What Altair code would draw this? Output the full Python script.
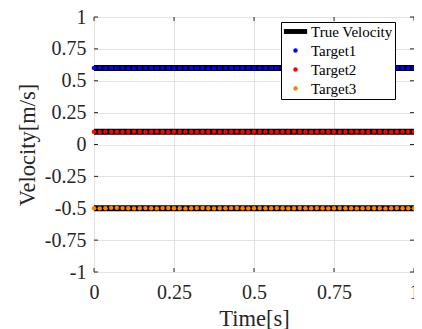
import altair as alt
import numpy as np
import pandas as pd

# sample times (0..1 s)
time = [round(v, 5) for v in np.linspace(0, 1, 57)]

target1 = [0.600, 0.601, 0.599, 0.600, 0.600, 0.601, 0.599, 0.598, 0.600, 0.601,
           0.600, 0.599, 0.601, 0.600, 0.598, 0.600, 0.601, 0.600, 0.599, 0.600,
           0.597, 0.599, 0.600, 0.601, 0.600, 0.599, 0.600, 0.601, 0.598, 0.599,
           0.600, 0.601, 0.600, 0.599, 0.600, 0.600, 0.601, 0.599, 0.600, 0.600,
           0.601, 0.600, 0.599, 0.600, 0.601, 0.600, 0.599, 0.600, 0.601, 0.598,
           0.596, 0.599, 0.600, 0.601, 0.600, 0.599, 0.600]
target2 = [0.100, 0.099, 0.101, 0.100, 0.100, 0.099, 0.100, 0.101, 0.100, 0.099,
           0.100, 0.101, 0.100, 0.099, 0.100, 0.100, 0.101, 0.100, 0.099, 0.100,
           0.100, 0.101, 0.099, 0.100, 0.100, 0.101, 0.100, 0.099, 0.100, 0.100,
           0.101, 0.100, 0.099, 0.100, 0.100, 0.101, 0.100, 0.100, 0.099, 0.100,
           0.101, 0.100, 0.100, 0.099, 0.100, 0.101, 0.100, 0.100, 0.099, 0.101,
           0.100, 0.100, 0.099, 0.100, 0.101, 0.100, 0.100]
target3 = [-0.500, -0.501, -0.500, -0.497, -0.497, -0.499, -0.500, -0.501, -0.500, -0.499,
           -0.500, -0.501, -0.499, -0.498, -0.500, -0.500, -0.501, -0.500, -0.499, -0.498,
           -0.500, -0.501, -0.500, -0.500, -0.499, -0.498, -0.500, -0.501, -0.500, -0.499,
           -0.500, -0.500, -0.499, -0.500, -0.501, -0.500, -0.498, -0.500, -0.500, -0.499,
           -0.500, -0.501, -0.500, -0.499, -0.500, -0.500, -0.501, -0.500, -0.499, -0.500,
           -0.500, -0.501, -0.500, -0.499, -0.500, -0.500, -0.500]

series_names = ["Target1", "Target2", "Target3"]
true_velocity = [0.6, 0.1, -0.5]
true_time = [0, 1]
legend_names = ["True Velocity", "Target1", "Target2", "Target3"]
legend_colors = ["#000000", "#0000FF", "#FF0000", "#FF8000"]
x_ticks = [0, 0.25, 0.5, 0.75, 1]
y_ticks = [-1, -0.75, -0.5, -0.25, 0, 0.25, 0.5, 0.75, 1]

W, H = 320, 255
FONT = "Liberation Serif"
TXT = "#262626"

pts = pd.DataFrame({
    "time": time * 3,
    "velocity": target1 + target2 + target3,
    "series": [n for n in series_names for _ in time],
})
true_df = pd.DataFrame({
    "time": true_time * 3,
    "velocity": [v for v in true_velocity for _ in true_time],
    "target": [n for n in series_names for _ in true_time],
})
xt = pd.DataFrame({"time": x_ticks})
yt = pd.DataFrame({"velocity": y_ticks})

xscale = alt.Scale(domain=[0, 1], nice=False, zero=False)
yscale = alt.Scale(domain=[-1, 1], nice=False, zero=False)

x_axis = alt.Axis(values=x_ticks, title="Time[s]", grid=True, gridColor="#e3e3e3",
                  domain=False, ticks=False, labelFlush=False, labelOverlap=False,
                  labelFont=FONT, labelFontSize=20, labelColor=TXT, labelPadding=10,
                  labelExpr="'' + datum.value", titleFont=FONT, titleFontSize=22.5,
                  titleFontWeight="normal", titleColor=TXT, titleBaseline="middle",
                  titleY=46)
y_axis = alt.Axis(values=y_ticks, title="Velocity[m/s]", grid=True, gridColor="#e3e3e3",
                  domain=False, ticks=False, labelFlush=False, labelOverlap=False,
                  labelFont=FONT, labelFontSize=20, labelColor=TXT, labelPadding=8,
                  labelExpr="'' + datum.value", titleFont=FONT, titleFontSize=22.5,
                  titleFontWeight="normal", titleColor=TXT, titleBaseline="middle",
                  titleAngle=270, titleX=-67, titleY=H / 2)

X = alt.X("time:Q", scale=xscale, axis=x_axis)
Y = alt.Y("velocity:Q", scale=yscale, axis=y_axis)

lines = alt.Chart(true_df).mark_line(color="black", strokeWidth=6, strokeCap="butt").encode(
    x=X, y=Y, detail="target:N")

legend = alt.Legend(title=None, orient="none", legendX=187, legendY=5,
                    fillColor="white", strokeColor="black", padding=2,
                    labelFont=FONT, labelFontSize=15, labelColor="black",
                    symbolOffset=5, labelOffset=8, rowPadding=3, symbolSize=20,
                    symbolStrokeWidth=0)

points = alt.Chart(pts).mark_point(filled=True, size=20, opacity=1).encode(
    x=X, y=Y,
    color=alt.Color("series:N", scale=alt.Scale(domain=legend_names, range=legend_colors),
                    legend=legend),
    shape=alt.Shape("series:N", scale=alt.Scale(
        domain=legend_names,
        range=["M-5.2,-1.1H5.2V1.1H-5.2Z", "circle", "circle", "circle"]),
        legend=legend),
)

tick_l = alt.Chart(yt).mark_rule(color=TXT, strokeWidth=1).encode(
    y=Y, x=alt.value(0), x2=alt.value(4))
tick_r = alt.Chart(yt).mark_rule(color=TXT, strokeWidth=1).encode(
    y=Y, x=alt.value(W - 4), x2=alt.value(W))
tick_b = alt.Chart(xt).mark_rule(color=TXT, strokeWidth=1).encode(
    x=X, y=alt.value(H - 4), y2=alt.value(H))
tick_t = alt.Chart(xt).mark_rule(color=TXT, strokeWidth=1).encode(
    x=X, y=alt.value(0), y2=alt.value(4))

chart = alt.layer(lines, tick_l, tick_r, tick_b, tick_t, points).properties(
    width=W, height=H,
    autosize=alt.AutoSizeParams(type="none"),
    padding={"left": 86, "top": 9, "right": 0, "bottom": 57},
    background="white",
).configure_view(stroke=TXT, strokeWidth=1)

chart.save("out.html", embed_options={"renderer": "svg", "actions": False})
